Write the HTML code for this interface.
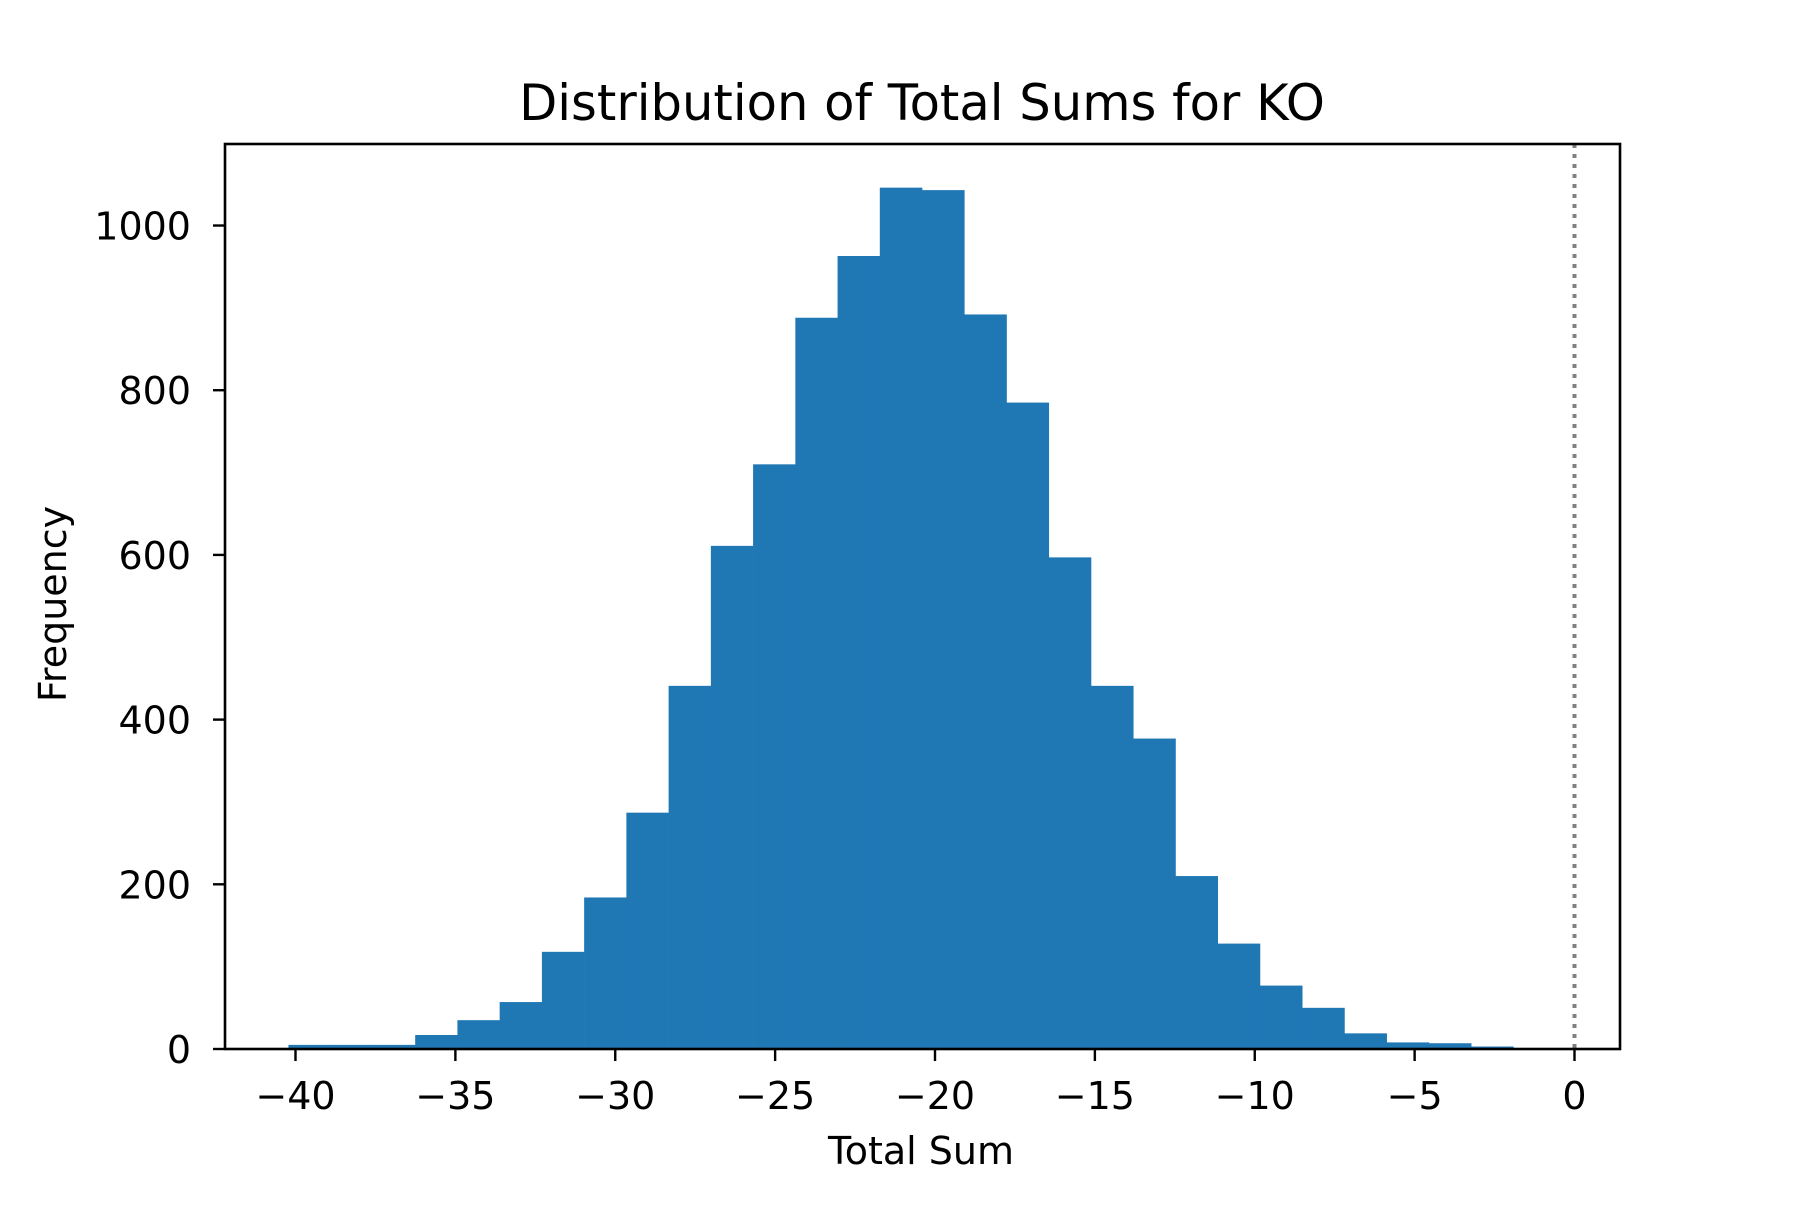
<!DOCTYPE html>
<html><head><meta charset="utf-8"><style>
html,body{margin:0;padding:0;background:#fff;}
svg text{font-family:"DejaVu Sans","Liberation Sans",sans-serif;fill:#000;}
</style></head><body>
<svg id="chart" width="1800" height="1200" viewBox="0 0 1800 1200" xmlns="http://www.w3.org/2000/svg">
<rect width="1800" height="1200" fill="#fff"/>
<text x="922" y="120" font-size="49.6" text-anchor="middle">Distribution of Total Sums for KO</text>
<g id="bars"></g>
<g id="axes"></g>
<text x="921" y="1164" font-size="38" text-anchor="middle">Total Sum</text>
<text transform="translate(66,604) rotate(-90)" font-size="38" text-anchor="middle">Frequency</text>
</svg>
<script>
const binStart = -40.22;
const binWidth = 1.321;
const counts = [5,5,5,17,35,57,118,184,287,441,611,710,888,963,1046,1043,892,785,597,441,377,210,128,77,50,19,8,7,3,1];
const xTicks = [-40,-35,-30,-25,-20,-15,-10,-5,0];
const yTicks = [0,200,400,600,800,1000];
const refLineX = 0;

const L=225,R=1620,T=144,B=1049;
const x40=295.5,x0=1574.5;
function sx(v){return x0+v*(x0-x40)/40;}
const yMax=1099;
function sy(v){return B-v/yMax*(B-T);}
const NS="http://www.w3.org/2000/svg";
function mk(tag,attrs,parent){const e=document.createElementNS(NS,tag);for(const k in attrs)e.setAttribute(k,attrs[k]);parent.appendChild(e);return e;}
const bars=document.getElementById('bars');
counts.forEach((c,i)=>{
  const a=sx(binStart+i*binWidth),b=sx(binStart+(i+1)*binWidth);
  const r=mk('rect',{x:a,y:sy(c),width:b-a+0.3,height:B-sy(c),fill:'#1f77b4'},bars);
  
  
});
const ax=document.getElementById('axes');
const ref=mk('line',{x1:sx(refLineX),x2:sx(refLineX),y1:T,y2:B,stroke:'#808080','stroke-width':4,'stroke-dasharray':'4,6'},ax);


const frame=mk('rect',{x:L,y:T,width:R-L,height:B-T,fill:'none',stroke:'#000','stroke-width':2.6},ax);


xTicks.forEach(t=>{
  const x=sx(t);
  const l=mk('line',{x1:x,x2:x,y1:B,y2:B+12,stroke:'#000','stroke-width':2.4},ax);
  
  
  const tx=mk('text',{x:x,y:1109,'font-size':38,'text-anchor':'middle'},ax);
  tx.textContent=t<0?'\u2212'+Math.abs(t):String(t);
  
  
});
yTicks.forEach(t=>{
  const y=sy(t);
  const l=mk('line',{x1:L-12,x2:L,y1:y,y2:y,stroke:'#000','stroke-width':2.4},ax);
  
  
  const tx=mk('text',{x:191,y:y+14,'font-size':38,'text-anchor':'end'},ax);
  tx.textContent=String(t);
  
  
});
</script>
</body></html>
